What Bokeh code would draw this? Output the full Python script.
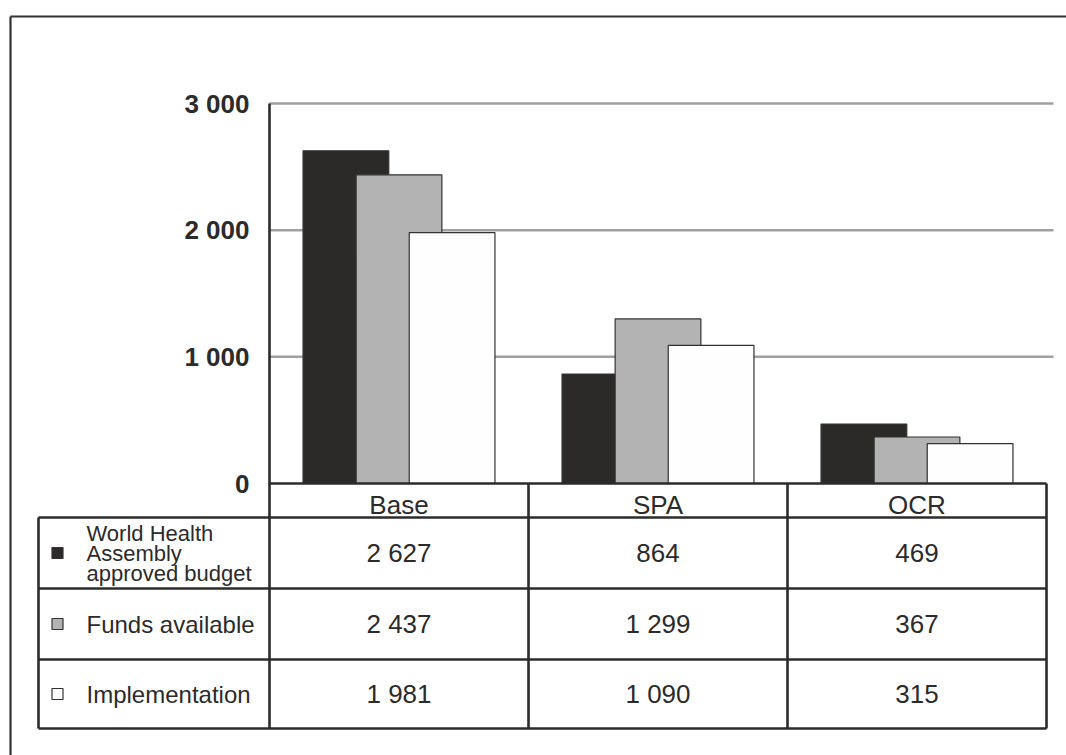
from bokeh.plotting import figure
from bokeh.models import Range1d
from bokeh.core.properties import value
from bokeh.embed import file_html
from bokeh.resources import INLINE

# ---- data -------------------------------------------------------------
categories = ["Base", "SPA", "OCR"]
series_names = ["World Health\nAssembly\napproved budget", "Funds available", "Implementation"]
approved = [2627, 864, 469]
funds = [2437, 1299, 367]
implementation = [1981, 1090, 315]
y_ticks = [0, 1000, 2000, 3000]
y_tick_labels = ["0", "1 000", "2 000", "3 000"]

series_values = [approved, funds, implementation]
series_colors = ["#2b2a28", "#b2b3b2", "#fefefe"]

W, H = 1066, 755
FONT = value("Liberation Sans")
INK = "#2b2b2b"

# one category column is CW pixels wide; value 0 sits at pixel row Y0
CW = 259.0
X0 = 269
Y0 = 483
PX_PER_UNIT = 380 / 3000.0


def X(px):
    return (px - X0) / CW


def Y(py):
    return (Y0 - py) / PX_PER_UNIT


p = figure(width=W, height=H,
           x_range=Range1d(X(0), X(W)), y_range=Range1d(Y(H), Y(0)),
           min_border=0, toolbar_location=None, output_backend="svg")
p.axis.visible = False
p.grid.visible = False
p.outline_line_color = None
p.background_fill_color = "white"
p.border_fill_color = "white"

# horizontal gridlines
grid_vals = [t for t in y_ticks if t > 0]
p.segment(x0=[0] * len(grid_vals), x1=[X(1053)] * len(grid_vals),
          y0=grid_vals, y1=grid_vals, line_color="#a0a0a0", line_width=2.5)

# overlapping grouped bars
offsets = [-0.205, 0.0, 0.205]
bar_w = 0.331
for vals, col, off in zip(series_values, series_colors, offsets):
    xs = [i + 0.5 + off for i in range(len(categories))]
    p.vbar(x=xs, top=vals, bottom=0, width=bar_w, fill_color=col,
           line_color="#333333", line_width=1.2)

# value axis line and table grid
n = len(categories)
row_edges = [Y(v) for v in (517, 588, 659, 728)]
p.segment(x0=[0], x1=[0], y0=[y_ticks[-1]], y1=[row_edges[-1]],
          line_color=INK, line_width=2.6)
p.segment(x0=[0], x1=[n], y0=[0], y1=[0], line_color=INK, line_width=2.6)
p.segment(x0=[X(38)] * len(row_edges), x1=[n] * len(row_edges),
          y0=row_edges, y1=row_edges, line_color=INK, line_width=2.6)
p.segment(x0=[X(38)] + list(range(1, n + 1)), x1=[X(38)] + list(range(1, n + 1)),
          y0=[row_edges[0]] + [0] * n, y1=[row_edges[-1]] * (n + 1),
          line_color=INK, line_width=2.6)

# outer frame
p.segment(x0=[X(10), X(10)], x1=[X(1072), X(10)],
          y0=[Y(16), Y(16)], y1=[Y(16), Y(760)],
          line_color="#333333", line_width=2.2)

# value-axis labels
p.text(x=[X(249)] * len(y_ticks), y=y_ticks, text=y_tick_labels,
       text_font=FONT, text_font_size="26px", text_font_style="bold",
       text_color=INK, text_align="right", text_baseline="middle")

# category labels in the table header
p.text(x=[i + 0.5 for i in range(n)], y=[Y(504)] * n, text=categories,
       text_font=FONT, text_font_size="26px", text_color=INK,
       text_align="center", text_baseline="middle")

# legend rows with table values
row_centers = [(row_edges[k] + row_edges[k + 1]) / 2 for k in range(3)]
p.rect(x=[X(57)] * 3, y=row_centers, width=11, height=11,
       width_units="screen", height_units="screen",
       fill_color=series_colors, line_color="#333333", line_width=1.2)
for k, name in enumerate(series_names):
    multi = "\n" in name
    p.text(x=[X(86)], y=[row_centers[k]], text=[name], text_font=FONT,
           text_font_size="22px" if multi else "24px",
           text_line_height=0.8, text_color=INK,
           text_align="left", text_baseline="middle")
    labels = [f"{v:,}".replace(",", " ") for v in series_values[k]]
    p.text(x=[i + 0.5 for i in range(n)], y=[row_centers[k]] * n, text=labels,
           text_font=FONT, text_font_size="26px", text_color=INK,
           text_align="center", text_baseline="middle")

open("out.html", "w").write(file_html(p, INLINE))
